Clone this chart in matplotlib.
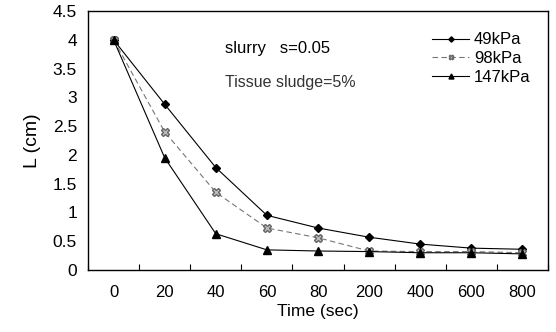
import matplotlib
matplotlib.use("Agg")
import matplotlib.pyplot as plt

plt.rcParams['font.family'] = ['Liberation Sans', 'DejaVu Sans']

times = ["0", "20", "40", "60", "80", "200", "400", "600", "800"]
l_49 = [4.0, 2.88, 1.78, 0.95, 0.73, 0.57, 0.45, 0.38, 0.36]
l_98 = [4.0, 2.40, 1.35, 0.73, 0.56, 0.33, 0.32, 0.32, 0.30]
l_147 = [4.0, 1.95, 0.63, 0.35, 0.33, 0.32, 0.30, 0.30, 0.28]
y_ticks = [0, 0.5, 1, 1.5, 2, 2.5, 3, 3.5, 4, 4.5]
y_tick_labels = ["0", "0.5", "1", "1.5", "2", "2.5", "3", "3.5", "4", "4.5"]

fig = plt.figure(figsize=(5.56, 3.32), dpi=100)
ax = fig.add_axes([88/556, 1 - 270/332, 460/556, 259/332])

x = list(range(len(times)))
ax.plot(x, l_49, color='black', lw=0.8, marker='D', ms=4.5, label='49kPa')
ax.plot(x, l_98, color='#777777', lw=0.8, ls=(0, (5, 3)), marker='X', ms=5.5,
        mfc='#bbbbbb', mec='#666666', label='98kPa')
ax.plot(x, l_147, color='black', lw=0.8, marker='^', ms=6, label='147kPa')

ax.set_xlim(-0.5, len(times) - 0.5)
ax.set_ylim(0, 4.5)
ax.set_xticks([i - 0.5 for i in range(len(times) + 1)])
ax.set_xticklabels([])
ax.set_xticks(x, minor=True)
ax.set_xticklabels(times, minor=True, fontsize=12)
ax.tick_params(axis='x', which='minor', length=0, pad=11)
ax.tick_params(axis='x', which='major', direction='in', length=4)
ax.set_yticks(y_ticks)
ax.set_yticklabels(y_tick_labels, fontsize=12.5)
ax.tick_params(axis='y', direction='out', length=0, pad=8)

for s in ax.spines.values():
    s.set_linewidth(1.0)

ax.set_xlabel("Time (sec)", fontsize=12.5, labelpad=3)
ax.set_ylabel("L (cm)", fontsize=14, labelpad=8)

ax.text(225, 48, "slurry   s=0.05", transform=None, fontsize=12, va='center')
ax.text(225, 82, "Tissue sludge=5%", transform=None, fontsize=11.5, va='center', color='#333333')

leg = ax.legend(loc='upper right', bbox_to_anchor=(0.995, 0.975), frameon=False,
                fontsize=12, handlelength=2.2, handletextpad=0.3, labelspacing=0.22,
                markerscale=0.6)

for t in ax.texts:
    px, py = t.get_position()
    t.set_transform(fig.transFigure)
    t.set_position((px / 556, 1 - py / 332))

fig.savefig("out.png", dpi=100)
